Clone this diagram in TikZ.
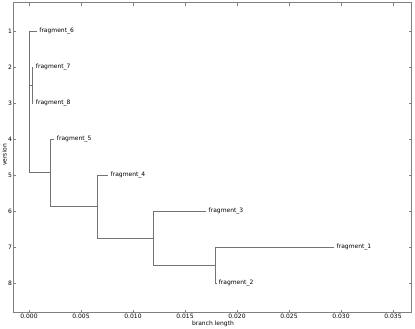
\documentclass[tikz,border=0pt]{standalone}
\usepackage{fontspec}
\setmainfont{DejaVu Sans}
\usetikzlibrary{positioning}

\begin{document}
\begin{tikzpicture}[
            x=10.4pt, y=-36pt, shift={(29pt,5pt)},
            font=\fontsize{6}{7}\selectfont,
        % tree branches: thin grey lines, drawn as parent |- child
            edge/.style={draw=black!55, line width=0.6pt},
        % axes box and its inward ticks
            frame/.style={draw=black!50, line width=0.7pt},
            tick/.style={draw=black!50, line width=0.5pt},
            leaf/.style={anchor=west, inner sep=2.5pt},
            xtl/.style={anchor=north, inner sep=1.8pt},
            ytl/.style={anchor=east, inner sep=1.2pt}
        ]
            \useasboundingbox (-29pt,-5pt) rectangle (386pt,-334pt);

% --- axes ---
            \coordinate (axsw) at (-1.5,8.82);
            \coordinate (axne) at (36.8,0.21);
            \draw[frame] (axsw) rectangle (axne);
            \foreach \v/\t in {0/0.000,5/0.005,10/0.010,15/0.015,20/0.020,25/0.025,30/0.030,35/0.035} {
                \draw[tick] (\v,8.82) -- ++(0,3pt);
                \draw[tick] (\v,0.21) -- ++(0,-3pt);
                \node[xtl] (xt\v) at (\v,8.82) {\t};
            }
            \foreach \k in {1,...,8} {
                \draw[tick] (-1.5,\k) -- ++(3pt,0);
                \draw[tick] (36.8,\k) -- ++(-3pt,0);
                \node[ytl] (yt\k) at (-1.5,\k) {\k};
            }
            \node[rotate=90] (ylab) at (-2.36,4.44) {version};
            \node (xlab) at (17.69,9.14) {branch length};

% --- clades ---
            \coordinate (root) at (0,2.96875);
            \coordinate (c78) at (0.29,2.5);
            \coordinate (cB) at (2.02,4.9375);
            \coordinate (cC) at (6.6,5.875);
            \coordinate (cD) at (11.95,6.75);
            \coordinate (cE) at (17.95,7.5);

% --- leaves ---
            \node[leaf] (f6) at (0.74,1) {fragment\_6};
            \node[leaf] (f7) at (0.41,2) {fragment\_7};
            \node[leaf] (f8) at (0.41,3) {fragment\_8};
            \node[leaf] (f5) at (2.43,4) {fragment\_5};
            \node[leaf] (f4) at (7.6,5) {fragment\_4};
            \node[leaf] (f3) at (17.02,6) {fragment\_3};
            \node[leaf] (f1) at (29.33,7) {fragment\_1};
            \node[leaf] (f2) at (17.99,8) {fragment\_2};

% --- branches ---
            \draw[edge] (root) |- (f6.west);
            \draw[edge] (root) |- (c78);
            \draw[edge] (root) |- (cB);
            \draw[edge] (c78) |- (f7.west);
            \draw[edge] (c78) |- (f8.west);
            \draw[edge] (cB) |- (f5.west);
            \draw[edge] (cB) |- (cC);
            \draw[edge] (cC) |- (f4.west);
            \draw[edge] (cC) |- (cD);
            \draw[edge] (cD) |- (f3.west);
            \draw[edge] (cD) |- (cE);
            \draw[edge] (cE) |- (f1.west);
            \draw[edge] (cE) |- (f2.west);
        \end{tikzpicture}
\end{document}
